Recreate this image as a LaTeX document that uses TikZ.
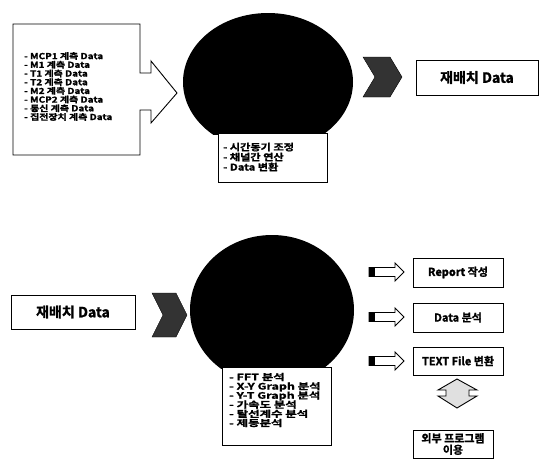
\documentclass[tikz,border=0pt]{standalone}
\usepackage{fontspec}
\setmainfont{Noto Sans CJK KR}[BoldFont={Noto Sans CJK KR Bold}, BoldFeatures={FakeBold=1.5}]
\newfontfamily\wfont{Noto Sans CJK KR Bold}[FakeStretch=1.2, FakeBold=1.5]
\newfontfamily\wwfont{Noto Sans CJK KR Bold}[FakeStretch=1.4, FakeBold=1.5]
\newcommand\tightls{\lineskiplimit=-100pt\relax\lineskip=0pt\relax}
\begin{document}
\begin{tikzpicture}[x=1pt,y=-1pt,
  box/.style={draw, line width=0.9pt, fill=white, inner sep=0pt},
  lst/.style={align=left, anchor=west, inner sep=0pt},
  lbl/.style={font=\bfseries\fontsize{11}{11.5}\selectfont\tightls},
  big/.style={font=\bfseries\fontsize{14}{15}\selectfont},
  chev/.style={fill=black!80, draw=black, line width=0.4pt},
  barrow/.style={draw, fill=white, line width=0.9pt, line join=miter},
  darrow/.style={draw, fill=black!12, line width=0.9pt}]
\useasboundingbox (0,0) rectangle (541,461);
\fill[white] (0,0) rectangle (541,461);

% ---------- top row ----------
% input list box with arrow
\draw[line width=0.9pt, fill=white] (13,24) -- (140,24) -- (140,73) -- (151,73) -- (151,61)
  -- (177,93) -- (151,123) -- (151,110) -- (140,110) -- (140,155) -- (13,155) -- cycle;
\node[lst, font=\wfont\fontsize{8.3}{8.7}\selectfont\tightls] (inlist) at (24,86.5) {- MCP1 계측 Data\\- M1 계측 Data\\- T1 계측 Data\\- T2 계측 Data\\- M2 계측 Data\\- MCP2 계측 Data\\- 통신 계측 Data\\- 집전장치 계측 Data};

% black disc
\begin{scope}
  \clip (150,0) rectangle (400,134);
  \fill[black] (268,82) ellipse [x radius=85pt, y radius=69pt];
\end{scope}
\coordinate (disc1) at (268,82);
\node[box, minimum width=109pt, minimum height=49pt] (proc1box) at (272.5,157.5) {};
\node[lst, font=\wfont\fontsize{9.3}{10}\selectfont\tightls] (proc1) at (223,157) {- 시간동기 조정\\- 채널간 연산\\- Data 변환};

% chevron
\draw[chev] (363,57) -- (390,57) -- (402,77) -- (390,97) -- (363,97) -- (375,77) -- cycle;
\coordinate (chev1) at (382,77);

% output box
\node[box, big, minimum width=122pt, minimum height=35pt] (out1) at (477,77.5) {재배치 Data};

% ---------- bottom row ----------
\node[box, big, minimum width=124pt, minimum height=34pt] (in2) at (73,312) {재배치 Data};

\draw[chev] (152,293) -- (176,293) -- (187,315) -- (176,337) -- (152,337) -- (163,315) -- cycle;
\coordinate (chev2) at (170,315);

\begin{scope}
  \clip (150,200) rectangle (400,368);
  \fill[black] (272,310) ellipse [x radius=82pt, y radius=75pt];
\end{scope}
\coordinate (disc2) at (272,310);
\node[box, minimum width=109pt, minimum height=78pt] (proc2box) at (276.5,406) {};
\node[lst, font=\wwfont\fontsize{8.9}{9.2}\selectfont\tightls] (proc2) at (229,400) {- FFT 분석\\- X-Y Graph 분석\\- Y-T Graph 분석\\- 가속도 분석\\- 탈선계수 분석\\- 제동분석};

% small block arrows
\foreach \c/\n in {272/a1,317/a2,361/a3}{
  \draw[barrow] (369,\c-4.5) -- (395,\c-4.5) -- (395,\c-9) -- (404,\c) -- (395,\c+9) -- (395,\c+4.5) -- (369,\c+4.5) -- cycle;
  \fill[black] (369,\c-4.5) rectangle (375,\c+4.5);
  \coordinate (\n) at (386,\c);
}

% result boxes
\node[box, lbl, minimum width=90pt, minimum height=29pt] (report) at (458,272.5) {Report 작성};
\node[box, lbl, minimum width=90pt, minimum height=29pt] (anal) at (458,317.5) {Data 분석};
\node[box, lbl, minimum width=90pt, minimum height=28pt] (textf) at (458,361) {TEXT File 변환};

% up-down double arrow
\draw[darrow] (457,379) -- (477,390) -- (469,390) -- (469,396) -- (477,396) -- (457,408)
  -- (438,396) -- (446,396) -- (446,390) -- (438,390) -- cycle;
\coordinate (dbl) at (457,393);

\node[box, lbl, align=center, minimum width=80pt, minimum height=28pt] (ext) at (453,444)
  {외부 프로그램\\이용};
\end{tikzpicture}
\end{document}
